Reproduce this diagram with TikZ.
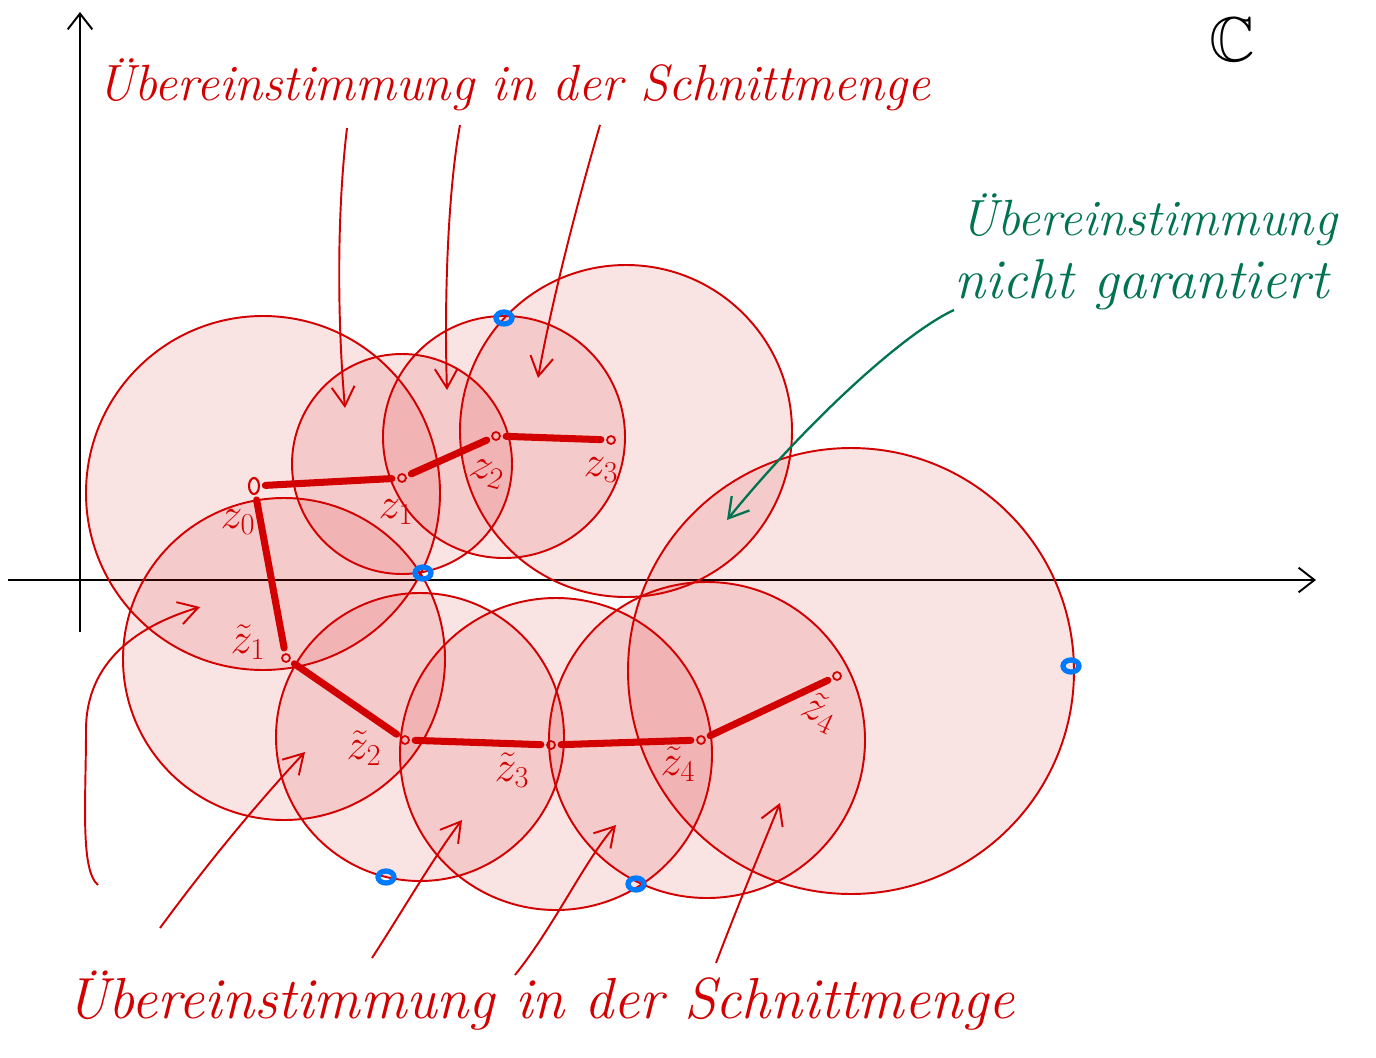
\documentclass[tikz,border=0pt]{standalone}
\usepackage{amssymb}
\usetikzlibrary{arrows.meta,shapes.geometric}
\definecolor{pen}{RGB}{210,0,0}
\definecolor{gpen}{RGB}{0,115,80}
\definecolor{bpen}{RGB}{0,122,255}
\begin{document}
\begin{tikzpicture}[x=0.02cm,y=-0.02cm,
  disk/.style={draw=pen, line width=1.1pt, fill=pen, fill opacity=0.11},
  chain/.style={draw=pen, line width=4pt, line cap=round, shorten <=3pt, shorten >=3pt},
  ptmark/.style={circle, draw=pen, line width=1pt, inner sep=0pt, minimum size=0.16cm},
  hint/.style={draw=pen, line width=1.1pt, -{Straight Barb[length=11pt,width=13pt]}},
  ghint/.style={draw=gpen, line width=1.3pt, -{Straight Barb[length=11pt,width=13pt]}},
  axis/.style={draw=black, line width=1.1pt, -{Straight Barb[length=9pt,width=14pt]}},
  bluemark/.style={draw=bpen, line width=3pt},
  zlab/.style={text=pen, font=\fontsize{25}{27}\selectfont, inner sep=0pt},
  txt/.style={text=pen, font=\fontsize{29}{34}\selectfont\itshape, inner sep=0pt, anchor=base west},
  gtxt/.style={text=gpen, font=\fontsize{29}{34}\selectfont\itshape, inner sep=0pt, anchor=base west}]
\useasboundingbox (0,0) rectangle (1376,1058);
\fill[white] (0,0) rectangle (1376,1058);

% axes
\coordinate (xs) at (8,580);
\coordinate (xe) at (1316,580);
\coordinate (ys) at (80,632);
\coordinate (ye) at (80,12);
\draw[axis] (xs) -- (xe);
\draw[axis] (ys) -- (ye);
\node[font=\fontsize{36}{40}\selectfont, inner sep=0pt] (C) at (1232,40) {$\mathbb{C}$};

% circle centres
\coordinate (c0) at (263,493);
\coordinate (c1) at (402,464);
\coordinate (c2) at (504,437);
\coordinate (c3) at (626,431);
\coordinate (d1) at (284,659);
\coordinate (d2) at (420,737);
\coordinate (d3) at (556,754);
\coordinate (d4) at (707,740);
\coordinate (d5) at (851,671);

\draw[disk] (c0) circle[radius=177];
\draw[disk] (c1) circle[radius=110];
\draw[disk] (c2) circle[radius=121];
\draw[disk] (c3) circle[radius=166];
\draw[disk] (d1) circle[radius=161];
\draw[disk] (d2) circle[radius=144];
\draw[disk] (d3) circle[radius=156];
\draw[disk] (d4) circle[radius=158];
\draw[disk] (d5) circle[radius=223];

% points
\node[ellipse, draw=pen, line width=1.2pt, inner sep=0pt, minimum width=0.2cm, minimum height=0.32cm] (z0) at (254,486) {};
\node[ptmark] (z1) at (402,478) {};
\node[ptmark] (z2) at (496,436) {};
\node[ptmark] (z3) at (611,440) {};
\node[ptmark] (t1) at (286,658) {};
\node[ptmark] (t2) at (405,740) {};
\node[ptmark] (t3) at (551,745) {};
\node[ptmark] (t4) at (701,740) {};
\node[ptmark] (t5) at (837,676) {};

% chains
\draw[chain] (z0) -- (z1);
\draw[chain] (z1) -- (z2);
\draw[chain] (z2) -- (z3);
\draw[chain] (z0) -- (t1);
\draw[chain] (t1) -- (t2);
\draw[chain] (t2) -- (t3);
\draw[chain] (t3) -- (t4);
\draw[chain] (t4) -- (t5);

% labels
\node[zlab] (lz0) at (238,522) {$z_0$};
\node[zlab] (lz1) at (396,512) {$z_1$};
\node[zlab, rotate=-15] (lz2) at (487,474) {$z_2$};
\node[zlab] (lz3) at (601,470) {$z_3$};
\node[zlab] (lt1) at (248,642) {$\tilde z_1$};
\node[zlab] (lt2) at (364,748) {$\tilde z_2$};
\node[zlab] (lt3) at (512,770) {$\tilde z_3$};
\node[zlab] (lt4) at (678,764) {$\tilde z_4$};
\node[zlab, rotate=-25] (lt5) at (820,712) {$\tilde z_4$};

% blue markers
\coordinate (p1) at (504,318);
\coordinate (p2) at (423,573);
\coordinate (p3) at (1071,666);
\coordinate (p4) at (386,877);
\coordinate (p5) at (636,884);
\foreach \p in {p1,p2,p3,p4,p5}
  \draw[bluemark] (\p) ellipse[x radius=8, y radius=6];

% texts
\node[txt] (top) at (97,100) {Übereinstimmung in der Schnittmenge};
\node[txt, font=\fontsize{33}{38}\selectfont\itshape] (bot) at (66,1018) {Übereinstimmung in der Schnittmenge};
\node[gtxt] (g1) at (960,235) {Übereinstimmung};
\node[gtxt, font=\fontsize{32}{36}\selectfont\itshape] (g2) at (954,298) {nicht garantiert};

% top arrows
\coordinate (a1s) at (347,128); \coordinate (a1e) at (345,408);
\coordinate (a2s) at (460,125); \coordinate (a2e) at (447,390);
\coordinate (a3s) at (600,125); \coordinate (a3e) at (538,378);
\draw[hint] (a1s) .. controls (336,220) and (338,330) .. (a1e);
\draw[hint] (a2s) .. controls (448,190) and (444,300) .. (a2e);
\draw[hint] (a3s) .. controls (578,200) and (552,300) .. (a3e);

% green arrow
\coordinate (gs) at (954,310); \coordinate (ge) at (727,520);
\draw[ghint] (gs) .. controls (900,335) and (800,430) .. (ge);

% bottom arrows
\coordinate (b1s) at (98,885); \coordinate (b1e) at (200,607);
\coordinate (b2s) at (160,928); \coordinate (b2e) at (305,752);
\coordinate (b3s) at (372,958); \coordinate (b3e) at (462,820);
\coordinate (b4s) at (515,975); \coordinate (b4e) at (616,825);
\coordinate (b5s) at (716,963); \coordinate (b5e) at (780,803);
\draw[hint] (b1s) .. controls (80,870) and (86,800) .. (86,730) .. controls (86,660) and (140,625) .. (b1e);
\draw[hint] (b2s) .. controls (210,860) and (260,800) .. (b2e);
\draw[hint] (b3s) .. controls (400,915) and (435,855) .. (b3e);
\draw[hint] (b4s) .. controls (555,925) and (585,860) .. (b4e);
\draw[hint] (b5s) .. controls (738,905) and (765,840) .. (b5e);
\end{tikzpicture}
\end{document}
